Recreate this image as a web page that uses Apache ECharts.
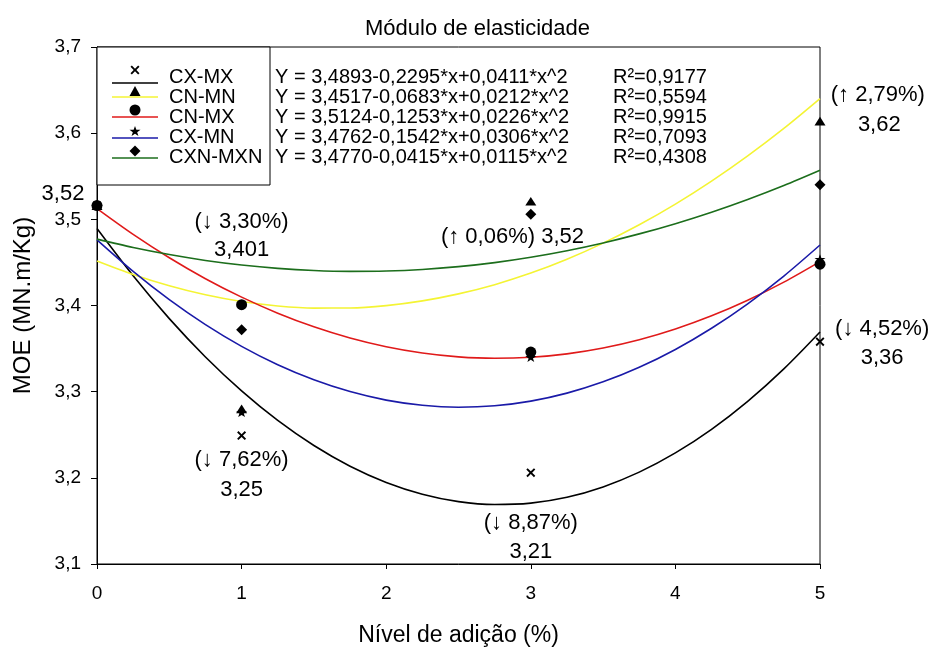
<!DOCTYPE html>
<html><head><meta charset="utf-8">
<script src="https://cdn.jsdelivr.net/npm/echarts@6/dist/echarts.min.js"></script>
<style>html,body{margin:0;padding:0;background:#fff}#c{width:936px;height:652px}</style>
</head><body><div id="c"></div>
<script>
// ---------- data ----------
const seriesNames = ['CX-MX', 'CN-MN', 'CN-MX', 'CX-MN', 'CXN-MXN'];
const lineColors = ['#000000', '#f4f434', '#e01a1a', '#1a1aa8', '#1c6e1c'];
const equations = [
  'Y = 3,4893-0,2295*x+0,0411*x^2',
  'Y = 3,4517-0,0683*x+0,0212*x^2',
  'Y = 3,5124-0,1253*x+0,0226*x^2',
  'Y = 3,4762-0,1542*x+0,0306*x^2',
  'Y = 3,4770-0,0415*x+0,0115*x^2'
];
const r2Labels = ['R²=0,9177', 'R²=0,5594', 'R²=0,9915', 'R²=0,7093', 'R²=0,4308'];

// observed points (x = nível de adição)
const xLevels = [0, 1, 3, 5];
const obsCXMX   = [3.516, 3.249, 3.206, 3.358];
const obsCNMN   = [3.516, 3.280, 3.521, 3.614];
const obsCNMX   = [3.516, 3.401, 3.346, 3.448];
const obsCXMN   = [3.516, 3.276, 3.340, 3.454];
const obsCXNMXN = [3.516, 3.372, 3.506, 3.540];

// fitted curves read along x
const curveX    = [0, 0.25, 0.5, 0.75, 1, 1.25, 1.5, 1.75, 2, 2.25, 2.5, 2.75, 3, 3.25, 3.5, 3.75, 4, 4.25, 4.5, 4.75, 5];
const fitCXMX   = [3.4893, 3.4345, 3.3848, 3.3403, 3.3009, 3.2666, 3.2375, 3.2135, 3.1947, 3.1810, 3.1724, 3.1690, 3.1707, 3.1775, 3.1895, 3.2066, 3.2289, 3.2563, 3.2888, 3.3265, 3.3693];
const fitCNMN   = [3.4517, 3.4360, 3.4229, 3.4124, 3.4046, 3.3995, 3.3970, 3.3971, 3.3999, 3.4054, 3.4135, 3.4242, 3.4376, 3.4537, 3.4724, 3.4937, 3.5177, 3.5444, 3.5737, 3.6056, 3.6402];
const fitCNMX   = [3.5124, 3.4825, 3.4554, 3.4311, 3.4097, 3.3911, 3.3753, 3.3623, 3.3522, 3.3449, 3.3404, 3.3387, 3.3399, 3.3439, 3.3507, 3.3603, 3.3728, 3.3881, 3.4062, 3.4271, 3.4509];
const fitCXMN   = [3.4762, 3.4396, 3.4068, 3.3778, 3.3526, 3.3313, 3.3138, 3.3001, 3.2902, 3.2842, 3.2820, 3.2836, 3.2890, 3.2983, 3.3114, 3.3283, 3.3490, 3.3736, 3.4020, 3.4342, 3.4702];
const fitCXNMXN = [3.4770, 3.4673, 3.4591, 3.4523, 3.4470, 3.4431, 3.4406, 3.4396, 3.4400, 3.4418, 3.4451, 3.4498, 3.4560, 3.4636, 3.4726, 3.4831, 3.4950, 3.5083, 3.5231, 3.5393, 3.5570];

// annotations
const annX    = [-0.235, 1.0, 1.0, 2.873, 1.0, 1.0, 3.0, 3.0, 5.40, 5.41, 5.43, 5.43];
const annY    = [3.529, 3.4975, 3.4642, 3.4791, 3.2205, 3.186, 3.1476, 3.1138, 3.6438, 3.610, 3.3725, 3.3386];
const annText = ['3,52', '(↓ 3,30%)', '3,401', '(↑ 0,06%) 3,52', '(↓ 7,62%)', '3,25',
                 '(↓ 8,87%)', '3,21', '(↑ 2,79%)', '3,62', '(↓ 4,52%)', '3,36'];

const yTicks = { min: 3.1, max: 3.7, step: 0.1 };
const xTicks = { min: 0, max: 5, step: 1 };

// ---------- styling ----------
const FONT = '"Liberation Sans", Arial, sans-serif';
const markerPolys = [
  [[1.5,0],[5,3.5],[8.5,0],[10,1.5],[6.5,5],[10,8.5],[8.5,10],[5,6.5],[1.5,10],[0,8.5],[3.5,5],[0,1.5]],
  [[5,0],[10,8.66],[0,8.66]],
  null,
  [[5,0],[6.2,3.5],[9.8,3.5],[6.9,5.7],[8,9.1],[5,7],[2,9.1],[3.1,5.7],[0.2,3.5],[3.8,3.5]],
  [[5,0],[10,5],[5,10],[0,5]]
];
const markerSizes = [[9, 9], [11, 10], [11, 11], [11, 10], [11, 11]];
// legend layout (pixels)
const legTextY   = [77, 97, 117, 137, 157];
const legLineY   = [83, 97, 117, 138, 158];
const legMarkerY = [70, 91, 110, 131, 151];

function symbolOf(i) {
  const p = markerPolys[i];
  if (!p) return 'circle';
  return 'path://M' + p.map(q => q[0] + ',' + q[1]).join('L') + 'Z';
}
function legendMarker(i, cx, cy) {
  const [w, h] = markerSizes[i];
  const p = markerPolys[i];
  if (!p) return { type: 'circle', shape: { cx: cx, cy: cy, r: w / 2 }, style: { fill: '#000' }, z: 22 };
  const xs = p.map(q => q[0]), ys = p.map(q => q[1]);
  const x0 = Math.min(...xs), x1 = Math.max(...xs), y0 = Math.min(...ys), y1 = Math.max(...ys);
  const pts = p.map(q => [cx + ((q[0] - x0) / (x1 - x0) - 0.5) * w, cy + ((q[1] - y0) / (y1 - y0) - 0.5) * h]);
  return { type: 'polygon', shape: { points: pts }, style: { fill: '#000' }, z: 22 };
}

const observed = [obsCXMX, obsCNMN, obsCNMX, obsCXMN, obsCXNMXN];
const fits = [fitCXMX, fitCNMN, fitCNMX, fitCXMN, fitCXNMXN];

const series = [];
fits.forEach((f, i) => {
  series.push({
    type: 'line', name: seriesNames[i] + ' ajuste',
    data: curveX.map((x, k) => [x, f[k]]),
    smooth: 0.3, showSymbol: false, symbol: 'none',
    lineStyle: { color: lineColors[i], width: 1.6 },
    silent: true, z: 2
  });
});
observed.forEach((o, i) => {
  series.push({
    type: 'scatter', name: seriesNames[i],
    data: xLevels.map((x, k) => [x, o[k]]),
    symbol: symbolOf(i), symbolKeepAspect: true,
    symbolSize: markerSizes[i],
    itemStyle: { color: '#000', opacity: 1 },
    silent: true, z: 5 + (i === 2 ? 1 : 0), clip: false
  });
});
series.push({
  type: 'scatter', name: 'anotações',
  data: annX.map((x, k) => ({ value: [x, annY[k]], name: annText[k] })),
  symbolSize: 0, clip: false, silent: true, z: 10,
  itemStyle: { opacity: 1, color: '#000' },
  label: { show: true, position: 'inside', formatter: p => p.name, opacity: 1,
           color: '#000', fontSize: 22, fontFamily: FONT }
});

// legend + equations drawn as graphic, built from the arrays
const graphic = [{
  type: 'rect', shape: { x: 97, y: 47, width: 173, height: 138 },
  style: { fill: '#fff', stroke: '#000', lineWidth: 1 }, z: 20
}];
seriesNames.forEach((n, i) => {
  const cy = legTextY[i];
  graphic.push({ type: 'line', shape: { x1: 112, y1: legLineY[i], x2: 158, y2: legLineY[i] },
    style: { stroke: lineColors[i], lineWidth: 1.6 }, z: 21 });
  graphic.push(legendMarker(i, 135, legMarkerY[i]));
  graphic.push({ type: 'text', x: 169, y: cy, style: { text: n, fontSize: 20, fontFamily: FONT, fill: '#000', verticalAlign: 'middle' }, z: 22 });
  graphic.push({ type: 'text', x: 275, y: cy, style: { text: equations[i], fontSize: 20, fontFamily: FONT, fill: '#000', verticalAlign: 'middle' }, z: 22 });
  graphic.push({ type: 'text', x: 613, y: cy, style: { text: r2Labels[i], fontSize: 20, fontFamily: FONT, fill: '#000', verticalAlign: 'middle' }, z: 22 });
});

const chart = echarts.init(document.getElementById('c'), null, { renderer: 'canvas' });
chart.setOption({
  backgroundColor: '#fff',
  animation: false,
  title: { text: 'Módulo de elasticidade', left: 360, top: 13,
    textStyle: { fontSize: 22, fontWeight: 'normal', color: '#000', fontFamily: FONT } },
  grid: { left: 97, right: 116, top: 47, bottom: 82, show: true, borderColor: '#000', borderWidth: 1, containLabel: false },
  xAxis: {
    type: 'value', min: xTicks.min, max: xTicks.max, interval: xTicks.step,
    name: 'Nível de adição (%)', nameLocation: 'middle', nameGap: 60,
    nameTextStyle: { fontSize: 23, color: '#000', fontFamily: FONT },
    axisLine: { show: true, onZero: false, lineStyle: { color: '#000', width: 1 } },
    axisTick: { show: true, length: 5, lineStyle: { color: '#000' } },
    axisLabel: { fontSize: 19, color: '#000', fontFamily: FONT, margin: 20 },
    splitLine: { show: false }
  },
  yAxis: {
    type: 'value', min: yTicks.min, max: yTicks.max, interval: yTicks.step,
    name: 'MOE (MN.m/Kg)', nameLocation: 'middle', nameGap: 62, nameRotate: 90,
    nameTextStyle: { fontSize: 24, color: '#000', fontFamily: FONT },
    axisLine: { show: true, lineStyle: { color: '#000', width: 1 } },
    axisTick: { show: true, length: 6, lineStyle: { color: '#000' } },
    axisLabel: { fontSize: 19, color: '#000', fontFamily: FONT, margin: 16,
      formatter: v => v.toFixed(1).replace('.', ',') },
    splitLine: { show: false }
  },
  series: series,
  graphic: graphic
});
</script></body></html>
